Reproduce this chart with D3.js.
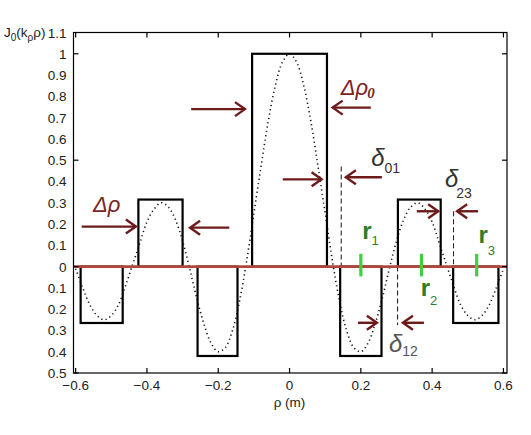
<!DOCTYPE html>
<html>
<head>
<meta charset="utf-8">
<script src="https://cdn.jsdelivr.net/npm/d3@7"></script>
<style>
  body { margin: 0; background: #fff; }
  text { font-family: "Liberation Sans", Arial, sans-serif; }
</style>
</head>
<body>
<div id="chart"></div>
<script>
var rhoSamples = [-0.60,-0.58,-0.56,-0.54,-0.52,-0.50,-0.48,-0.46,-0.44,-0.42,-0.40,-0.38,-0.36,-0.34,-0.32,-0.30,-0.28,-0.26,-0.24,-0.22,-0.20,-0.18,-0.16,-0.14,-0.12,-0.10,-0.08,-0.06,-0.04,-0.02,
  0.00,0.02,0.04,0.06,0.08,0.10,0.12,0.14,0.16,0.18,0.20,0.22,0.24,0.26,0.28,0.30,0.32,0.34,0.36,0.38,0.40,0.42,0.44,0.46,0.48,0.50,0.52,0.54,0.56,0.58,0.60];
var j0Values = [-0.01,-0.10,-0.18,-0.23,-0.25,-0.23,-0.18,-0.09,0.01,0.11,0.21,0.27,0.30,0.28,0.22,0.12,-0.01,-0.15,-0.27,-0.36,-0.40,-0.38,-0.30,-0.16,0.03,0.25,0.47,0.68,0.85,0.96,
  1.00,0.96,0.85,0.68,0.47,0.25,0.03,-0.16,-0.30,-0.38,-0.40,-0.36,-0.27,-0.15,-0.01,0.12,0.22,0.28,0.30,0.27,0.21,0.11,0.01,-0.09,-0.18,-0.23,-0.25,-0.23,-0.18,-0.10,-0.01];

// step approximation
var stepStart = [-0.586, -0.424, -0.258, -0.105, 0.142, 0.304, 0.459];
var stepEnd   = [-0.468, -0.300, -0.146,  0.105, 0.258, 0.424, 0.586];
var stepValue = [-0.265, 0.315, -0.42, 1.0, -0.42, 0.315, -0.265];

// ring positions r1..r3
var ringNames = ["1", "2", "3"];
var ringRho = [0.200, 0.370, 0.525];

// gap markers (dashed), [rho, from, to]
var gapLines = [[0.145, 0.47, 0], [0.303, 0, -0.275], [0.460, 0.26, 0]];

// arrows [fromRho, toRho, level]
var arrows = [
  [-0.583, -0.431, 0.188], [-0.169, -0.279, 0.183],
  [-0.276, -0.125, 0.740], [0.228, 0.121, 0.747],
  [-0.019, 0.090, 0.410], [0.259, 0.158, 0.420],
  [0.357, 0.417, 0.260], [0.529, 0.470, 0.260],
  [0.192, 0.245, -0.264], [0.377, 0.318, -0.264]
];

var xTicks = [-0.6, -0.4, -0.2, 0, 0.2, 0.4, 0.6];
var yTickMarks = [-0.5, 0, 0.5, 1];
var yLabels = [-0.5,-0.4,-0.3,-0.2,-0.1,0,0.1,0.2,0.3,0.4,0.5,0.6,0.7,0.8,0.9,1,1.1];

var svgWidth = 531, svgHeight = 435;
var plot = { left: 73.5, right: 507, top: 32.5, bottom: 373 };

var svg = d3.select("#chart").append("svg")
  .attr("width", svgWidth)
  .attr("height", svgHeight);

var x = d3.scaleLinear().domain([-0.606, 0.61]).range([plot.left, plot.right]);
var y = d3.scaleLinear().domain([-0.5, 1.1]).range([plot.bottom, plot.top]);

var arrowColor = "#6e1a1a";
var fmt = d => d3.format("")(Math.abs(+d.toFixed(1)));

// tick labels
svg.append("g").selectAll("text")
  .data(yLabels)
  .enter().append("text")
  .attr("x", plot.left - 7)
  .attr("y", d => y(d) + 5)
  .attr("text-anchor", "end")
  .attr("font-size", "13.5px")
  .attr("fill", "#222")
  .text(fmt);

svg.append("g").selectAll("text")
  .data(xTicks)
  .enter().append("text")
  .attr("x", d => x(d))
  .attr("y", plot.bottom + 17)
  .attr("text-anchor", "middle")
  .attr("font-size", "13.5px")
  .attr("fill", "#222")
  .text(d => d3.format("")(+d.toFixed(1)));

// axis titles
var yTitle = svg.append("text").attr("x", 4).attr("y", 37).attr("font-size", "13.5px").attr("fill", "#222");
yTitle.append("tspan").text("J");
yTitle.append("tspan").attr("font-size", "10px").attr("dy", 4).text("0");
yTitle.append("tspan").attr("dy", -4).text("(k");
yTitle.append("tspan").attr("font-size", "10px").attr("dy", 4).text("ρ");
yTitle.append("tspan").attr("dy", -4).text("ρ)");

svg.append("text")
  .attr("x", x(0))
  .attr("y", plot.bottom + 34)
  .attr("text-anchor", "middle")
  .attr("font-size", "13.5px")
  .attr("fill", "#222")
  .text("ρ (m)");

// dotted J0 curve
var curve = d3.line()
  .x((d, i) => x(rhoSamples[i]))
  .y(d => y(d))
  .curve(d3.curveCatmullRom);

svg.append("path")
  .datum(j0Values)
  .attr("d", curve)
  .attr("fill", "none")
  .attr("stroke", "#111")
  .attr("stroke-width", 1.6)
  .attr("stroke-dasharray", "1.2,3.2");

// steps
svg.append("g").selectAll("rect")
  .data(stepValue)
  .enter().append("rect")
  .attr("x", (d, i) => x(stepStart[i]))
  .attr("width", (d, i) => x(stepEnd[i]) - x(stepStart[i]))
  .attr("y", d => y(Math.max(d, 0)))
  .attr("height", d => Math.abs(y(d) - y(0)))
  .attr("fill", "none")
  .attr("stroke", "#000")
  .attr("stroke-width", 2.2);

// dashed gap markers
svg.append("g").selectAll("line")
  .data(gapLines)
  .enter().append("line")
  .attr("x1", d => x(d[0])).attr("x2", d => x(d[0]))
  .attr("y1", d => y(d[1])).attr("y2", d => y(d[2]))
  .attr("stroke", "#3a2222")
  .attr("stroke-width", 1.1)
  .attr("stroke-dasharray", "5,3");

// zero line
svg.append("line")
  .attr("x1", plot.left).attr("x2", plot.right)
  .attr("y1", y(0)).attr("y2", y(0))
  .attr("stroke", "#b0463c")
  .attr("stroke-width", 2.6);

// ring markers
svg.append("g").selectAll("line")
  .data(ringRho)
  .enter().append("line")
  .attr("x1", d => x(d)).attr("x2", d => x(d))
  .attr("y1", y(0.06)).attr("y2", y(-0.046))
  .attr("stroke", "#3fcf3f")
  .attr("stroke-width", 3.2);

// arrows
var arrowG = svg.append("g")
  .attr("fill", "none")
  .attr("stroke", arrowColor)
  .attr("stroke-width", 2.4);
arrows.forEach(function(a) {
  var x1 = x(a[0]), x2 = x(a[1]), yy = y(a[2]);
  var dir = x2 > x1 ? 1 : -1;
  arrowG.append("line").attr("x1", x1).attr("x2", x2).attr("y1", yy).attr("y2", yy);
  arrowG.append("path")
    .attr("d", `M${x2 - dir * 10},${yy - 7} L${x2},${yy} L${x2 - dir * 10},${yy + 7}`);
});

// text annotations
function label(px, py, main, sub, opts) {
  var t = svg.append("text")
    .attr("x", x(px)).attr("y", y(py))
    .attr("fill", opts.color)
    .attr("font-size", opts.size + "px")
    .attr("font-family", opts.family)
    .attr("font-style", opts.style || "normal")
    .attr("font-weight", opts.weight || "normal");
  t.append("tspan").text(main);
  t.append("tspan")
    .attr("dy", opts.subDy)
    .attr("dx", opts.subDx || 0)
    .attr("font-size", opts.subSize + "px")
    .attr("font-family", opts.subFamily || opts.family)
    .attr("font-weight", opts.subWeight || opts.weight || "normal")
    .attr("font-style", opts.subStyle || opts.style || "normal")
    .text(sub);
}

var serif = "'Liberation Serif', 'DejaVu Serif', serif";
label(-0.551, 0.257, "Δρ", "", { color: "#7a2424", size: 22, family: serif, style: "italic", subSize: 12, subDy: 0 });
label(0.144, 0.806, "Δρ", "0", { color: "#7a2424", size: 22, family: serif, style: "italic", subSize: 15, subDy: 3, subDx: -1, subWeight: "bold" });
label(0.229, 0.473, "δ", "01", { color: "#333", size: 24, family: serif, style: "italic", subSize: 14, subDy: 7, subFamily: "'Liberation Sans', Arial, sans-serif", subStyle: "normal" });
label(0.436, 0.374, "δ", "23", { color: "#333", size: 24, family: serif, style: "italic", subSize: 14, subDy: 11, subDx: -2, subFamily: "'Liberation Sans', Arial, sans-serif", subStyle: "normal" });
label(0.279, -0.401, "δ", "12", { color: "#555", size: 24, family: serif, style: "italic", subSize: 14, subDy: 4, subFamily: "'Liberation Sans', Arial, sans-serif", subStyle: "normal" });

var ringLabelPos = [[0.204, 0.13, 6], [0.368, -0.138, 9], [0.530, 0.111, 12]];
ringNames.forEach(function(n, i) {
  var p = ringLabelPos[i];
  label(p[0], p[1], "r", n, { color: "#2e7d2e", size: 24, family: "'Liberation Sans', Arial, sans-serif", weight: "bold", subSize: 13, subDy: p[2], subWeight: "normal" });
});

// frame and ticks (drawn last, like the box)
svg.append("rect")
  .attr("x", plot.left).attr("y", plot.top)
  .attr("width", plot.right - plot.left)
  .attr("height", plot.bottom - plot.top)
  .attr("fill", "none")
  .attr("stroke", "#000")
  .attr("stroke-width", 1.2);

var tickG = svg.append("g").attr("stroke", "#000").attr("stroke-width", 1.2);
xTicks.forEach(function(t) {
  tickG.append("line").attr("x1", x(t)).attr("x2", x(t)).attr("y1", plot.bottom).attr("y2", plot.bottom - 5);
  tickG.append("line").attr("x1", x(t)).attr("x2", x(t)).attr("y1", plot.top).attr("y2", plot.top + 5);
});
yTickMarks.forEach(function(t) {
  tickG.append("line").attr("x1", plot.left).attr("x2", plot.left + 5).attr("y1", y(t)).attr("y2", y(t));
  tickG.append("line").attr("x1", plot.right).attr("x2", plot.right - 5).attr("y1", y(t)).attr("y2", y(t));
});
</script>
</body>
</html>
